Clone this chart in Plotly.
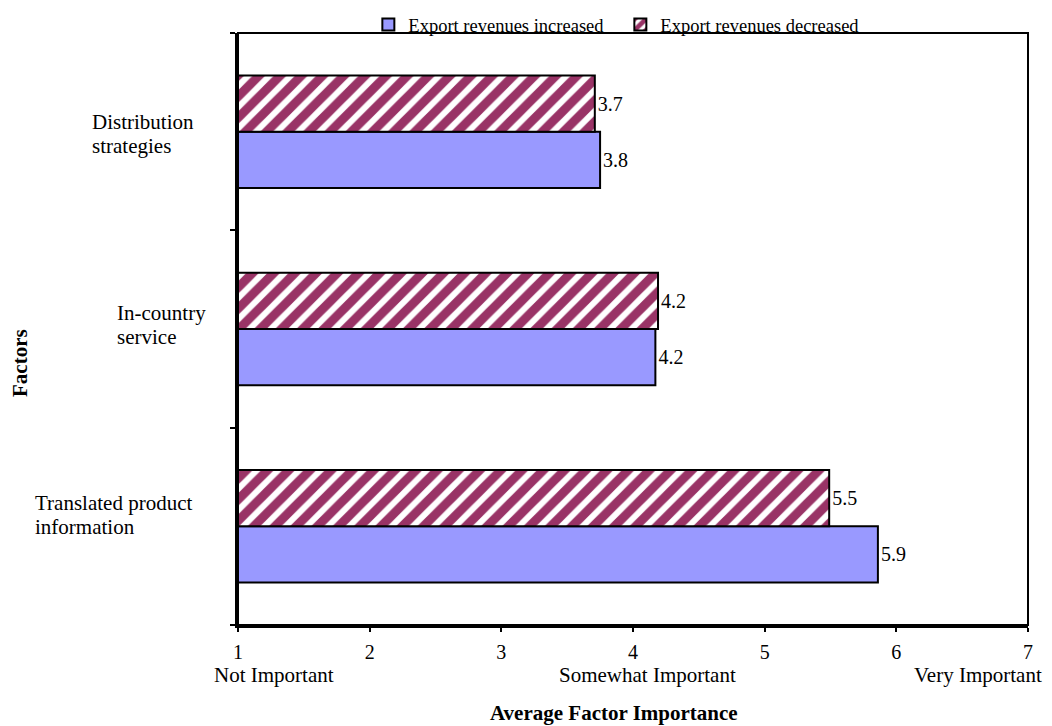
import plotly.graph_objects as go

categories = ["Translated product information", "In-country service", "Distribution strategies"]
cat_lines = [("Translated product", "information"), ("In-country", "service"), ("Distribution", "strategies")]
increased = [5.86, 4.17, 3.75]
decreased = [5.49, 4.19, 3.71]
increased_text = ["5.9", "4.2", "3.8"]
decreased_text = ["5.5", "4.2", "3.7"]
x_ticks = [1, 2, 3, 4, 5, 6, 7]
scale_labels = ["Not Important", "Somewhat Important", "Very Important"]
scale_pos = [1.27, 4.11, 6.62]

FONT = "Liberation Serif"
BLACK = "black"

# page offset (body margin) and plot area in screenshot pixels
OFF = 8
FIG_W, FIG_H = 1052 - OFF, 726 - OFF
L, R, T, B = 238, 1028, 33, 625
W, H = R - L, B - T


def px_x(p):
    return (p - L) / W


def px_y(p):
    return (B - p) / H


fig = go.Figure()
fig.add_trace(go.Bar(
    y=categories, x=increased, orientation="h", name="Export revenues increased",
    marker=dict(color="#9999FF", line=dict(color=BLACK, width=2)),
    text=increased_text, textposition="outside", cliponaxis=False,
    textfont=dict(family=FONT, size=20, color=BLACK),
))
fig.add_trace(go.Bar(
    y=categories, x=decreased, orientation="h", name="Export revenues decreased",
    marker=dict(color="white", line=dict(color=BLACK, width=2),
                pattern=dict(shape="/", fgcolor="#993366", bgcolor="white", size=15,
                             solidity=0.6, fgopacity=1)),
    text=decreased_text, textposition="outside", cliponaxis=False,
    textfont=dict(family=FONT, size=20, color=BLACK),
))

annotations = []
label_left_px = [33, 115, 90]
label_first_line_px = [503, 313, 122]
for (l1, l2), lx, ly in zip(cat_lines, label_left_px, label_first_line_px):
    for txt, yy in ((l1, ly), (l2, ly + 24)):
        annotations.append(dict(x=px_x(lx), xref="paper", y=px_y(yy), yref="paper", text=txt,
                                showarrow=False, xanchor="left", yanchor="middle",
                                font=dict(family=FONT, size=21, color=BLACK)))
for lab, xv in zip(scale_labels, scale_pos):
    annotations.append(dict(x=xv, xref="x", y=px_y(675), yref="paper", text=lab, showarrow=False,
                            xanchor="center", yanchor="middle",
                            font=dict(family=FONT, size=21, color=BLACK)))
annotations.append(dict(x=px_x(614), xref="paper", y=px_y(713), yref="paper",
                        text="<b>Average Factor Importance</b>", showarrow=False,
                        xanchor="center", yanchor="middle",
                        font=dict(family=FONT, size=21, color=BLACK)))
annotations.append(dict(x=px_x(20), xref="paper", y=px_y(363), yref="paper",
                        text="<b>Factors</b>", showarrow=False, textangle=-90,
                        xanchor="center", yanchor="middle",
                        font=dict(family=FONT, size=21, color=BLACK)))

fig.update_layout(
    width=FIG_W, height=FIG_H,
    margin=dict(l=L - OFF, r=1052 - R, t=T - OFF, b=726 - B, autoexpand=False),
    paper_bgcolor="white", plot_bgcolor="white",
    font=dict(family=FONT, size=20, color=BLACK),
    barmode="group", bargap=0.43, bargroupgap=0,
    showlegend=True,
    legend=dict(orientation="h", x=0.165, xanchor="left",
                yref="container", y=1 - (25 - OFF) / FIG_H, yanchor="middle",
                traceorder="normal", entrywidth=207, entrywidthmode="pixels",
                font=dict(family=FONT, size=18.5, color=BLACK),
                itemwidth=30, bgcolor="rgba(0,0,0,0)"),
    xaxis=dict(range=[1, 7], tickvals=x_ticks, ticks="outside", ticklen=4, tickwidth=2,
               tickcolor=BLACK, showline=True, linecolor=BLACK, linewidth=3,
               showgrid=False, zeroline=False, automargin=False, ticklabelstandoff=3,
               tickfont=dict(family=FONT, size=20, color=BLACK)),
    yaxis=dict(type="category", categoryorder="array", categoryarray=categories,
               tickson="boundaries", ticks="outside", ticklen=5, tickwidth=2, tickcolor=BLACK,
               showticklabels=False, showline=True, linecolor=BLACK, linewidth=3,
               showgrid=False, zeroline=False, automargin=False),
    annotations=annotations,
    shapes=[dict(type="rect", xref="paper", yref="paper", x0=0, x1=1, y0=0, y1=1,
                 line=dict(color=BLACK, width=2), fillcolor="rgba(0,0,0,0)", layer="above")],
)

fig.write_html("out.html")
